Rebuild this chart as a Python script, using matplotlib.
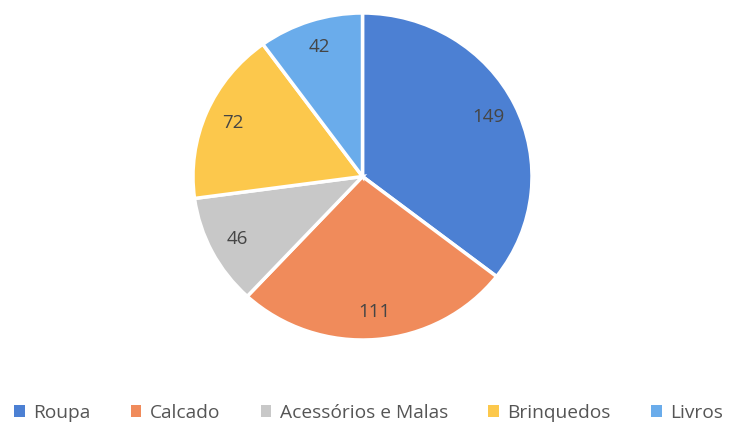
import matplotlib
matplotlib.use("Agg")
import matplotlib.pyplot as plt
from matplotlib.patches import Patch

categories = ["Roupa", "Calcado", "Acessórios e Malas", "Brinquedos", "Livros"]
values = [149, 111, 46, 72, 42]
colors = ["#4c80d3", "#f08b5b", "#c8c8c8", "#fcc84c", "#6aaceb"]

plt.rcParams['font.family'] = ['Open Sans', 'DejaVu Sans']

fig = plt.figure(figsize=(7.3, 4.32), dpi=100)
cx, cy, rx, ry = 362.5, 176.5, 169.5, 163.5
ax = fig.add_axes([(cx - rx) / 730, (432 - cy - ry) / 432, 2 * rx / 730, 2 * ry / 432])
total = sum(values)
wedges, texts, autotexts = ax.pie(
    values, colors=colors, startangle=90, counterclock=False,
    autopct=lambda p: f"{round(p * total / 100)}", pctdistance=0.83,
    wedgeprops=dict(edgecolor="white", linewidth=2.5),
    textprops=dict(color="#454545", fontsize=13.5))
ax.set_xlim(-1.0, 1.0)
ax.set_ylim(-1.0, 1.0)
ax.set_aspect("auto")

handles = [Patch(facecolor=c, edgecolor="none") for c in colors]
fig.legend(handles, categories, loc="center", bbox_to_anchor=(0.505, 0.044),
           ncol=5, frameon=False, fontsize=13.8, handlelength=0.55, handleheight=0.55,
           handletextpad=0.45, columnspacing=2.1, labelcolor="#555555")

fig.savefig("out.png", dpi=100, facecolor="white")
